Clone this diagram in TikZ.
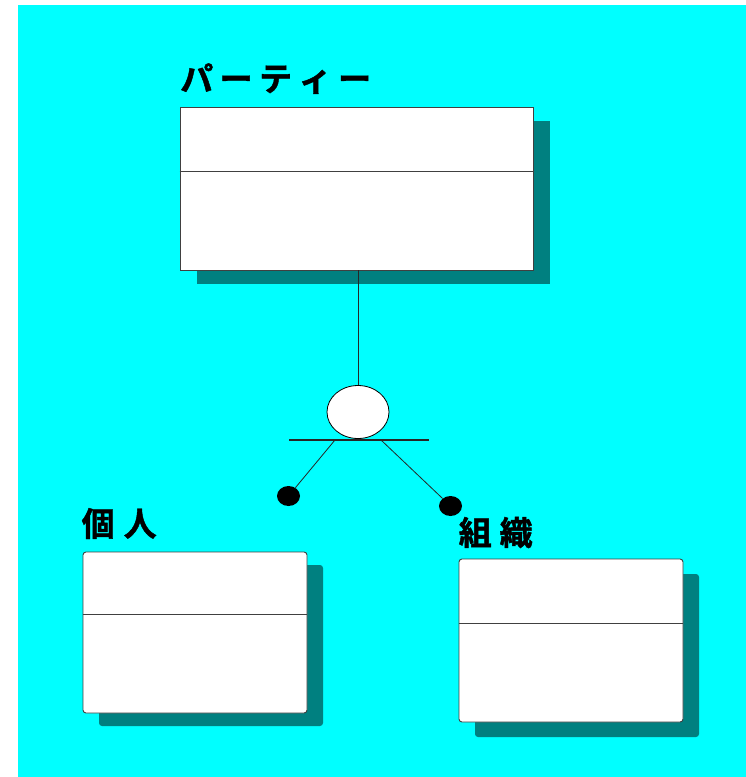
\documentclass[tikz,border=0pt]{standalone}
\usepackage{fontspec}
\newfontfamily\cjkheavy{Noto Sans CJK JP Bold}[FakeBold=1.3]
\usetikzlibrary{shapes.geometric,shadows}
\definecolor{bgcyan}{HTML}{00FFFF}
\definecolor{shadowteal}{HTML}{008080}
\definecolor{edgegray}{HTML}{404040}
\begin{document}
\begin{tikzpicture}[x=1pt,y=-1pt,
  classbox/.style={draw=edgegray,line width=0.9pt,fill=white,inner sep=0pt,
    minimum width=224pt,minimum height=162pt,rounded corners=3pt},
  title/.style={anchor=base west,inner sep=0pt,font=\cjkheavy\fontsize{33}{33}\selectfont},
  divider/.style={draw=edgegray,line width=0.9pt},
  link/.style={draw=black!85,line width=0.8pt},
  dot/.style={ellipse,fill=black,inner sep=0pt,minimum width=23pt,minimum height=20pt}]
  \useasboundingbox (0,0) rectangle (746,777);
  \fill[bgcyan] (18,5) rectangle (746,777);

  % supertype class
  \node[classbox,rounded corners=0pt,minimum width=353pt,minimum height=163pt,
    drop shadow={shadow xshift=17pt,shadow yshift=-14pt,fill=shadowteal,opacity=1}]
    (party) at (356.5,188.5) {};
  \draw[divider] (party.west |- 0,171) -- (party.east |- 0,171);
  \node[title] (partyname) at (180,91) {パ\kern6.5pt ー\kern6.5pt テ\kern6.5pt ィ\kern6.5pt ー};

  % subtype classes
  \node[classbox,minimum height=161pt,
    drop shadow={shadow xshift=16pt,shadow yshift=-13pt,fill=shadowteal,opacity=1}]
    (person) at (195,632.5) {};
  \draw[divider] (person.west |- 0,614) -- (person.east |- 0,614);
  \node[title] (personname) at (81.5,536) {個\kern9pt 人};

  \node[classbox,minimum height=163pt,
    drop shadow={shadow xshift=16pt,shadow yshift=-15pt,fill=shadowteal,opacity=1}]
    (org) at (571,640.5) {};
  \draw[divider] (org.west |- 0,623) -- (org.east |- 0,623);
  \node[title] (orgname) at (458.5,545) {組\kern8pt 織};

  % generalization symbol
  \node[ellipse,draw=black,line width=0.8pt,fill=white,inner sep=0pt,
    minimum width=62pt,minimum height=53pt] (gen) at (358,412) {};
  \draw[link] (gen.north) -- (gen.north |- party.south);
  \coordinate (barL) at (289,440);
  \coordinate (barR) at (429,440);
  \draw[draw=black!85,line width=1.2pt] (barL) -- (barR);
  \coordinate (legA) at (335,440);
  \coordinate (legB) at (381,440);
  \node[dot] (dotL) at (288.5,496) {};
  \node[dot] (dotR) at (450.5,506) {};
  \draw[link] (legA) -- (dotL);
  \draw[link] (legB) -- (dotR);
\end{tikzpicture}
\end{document}
